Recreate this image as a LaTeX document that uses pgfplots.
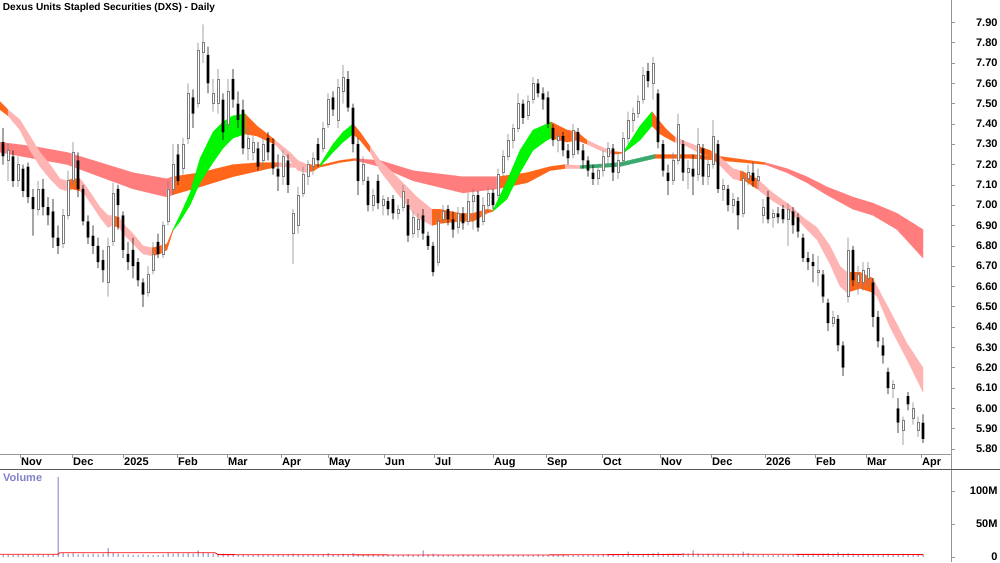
\documentclass[border=0pt]{standalone}
\usepackage{pgfplots}
\pgfplotsset{compat=1.18}
\usepackage{pgfplotstable}
\usepackage{fontspec}
\setmainfont{Liberation Sans}
\definecolor{ribgreen}{RGB}{0,245,0}
\definecolor{riborange}{RGB}{255,102,26}
\definecolor{ribpink}{RGB}{255,180,180}
\definecolor{ribred}{RGB}{255,125,125}
\definecolor{ribdkgreen}{RGB}{60,170,110}
\definecolor{candlegray}{RGB}{125,125,125}
\definecolor{volblue}{RGB}{128,128,200}
\definecolor{axgray}{RGB}{150,150,150}

\pgfplotstableread{
x o h l c
8 7.22 7.30 7.12 7.27
18 7.12 7.24 7.09 7.20
38 6.98 7.12 6.95 7.08
63 6.81 6.98 6.79 6.95
68 6.95 7.17 6.93 7.12
73 7.12 7.31 7.10 7.26
108 6.62 6.84 6.55 6.80
113 6.82 7.11 6.80 7.06
148 6.57 6.70 6.55 6.66
153 6.68 6.82 6.66 6.76
163 6.76 6.92 6.74 6.90
168 6.92 7.12 6.90 7.08
173 7.08 7.30 7.05 7.20
183 7.18 7.33 7.15 7.30
188 7.33 7.60 7.30 7.55
198 7.50 7.80 7.48 7.76
203 7.75 7.89 7.70 7.80
213 7.50 7.62 7.46 7.55
218 7.50 7.67 7.45 7.62
228 7.40 7.62 7.38 7.56
248 7.28 7.38 7.22 7.33
253 7.26 7.34 7.22 7.31
263 7.22 7.33 7.18 7.30
283 7.14 7.27 7.10 7.24
293 6.86 6.98 6.71 6.96
298 6.90 7.09 6.86 7.05
303 7.06 7.19 7.04 7.15
308 7.14 7.22 7.10 7.20
313 7.19 7.26 7.15 7.23
323 7.28 7.41 7.26 7.38
328 7.40 7.55 7.38 7.52
338 7.42 7.62 7.38 7.58
343 7.56 7.69 7.50 7.63
363 7.12 7.24 7.10 7.20
373 7.00 7.08 6.97 7.05
383 7.00 7.05 6.95 7.03
398 6.96 7.00 6.93 6.98
403 6.99 7.10 6.97 7.07
413 6.86 6.97 6.84 6.94
418 6.88 6.96 6.84 6.93
438 6.72 6.96 6.70 6.92
443 6.93 7.00 6.91 6.97
458 6.89 6.99 6.86 6.96
468 6.92 7.06 6.90 7.02
473 7.02 7.08 6.88 7.05
483 6.92 7.04 6.90 7.00
488 7.00 7.09 6.97 7.06
498 7.05 7.18 7.03 7.15
503 7.16 7.27 7.14 7.24
508 7.24 7.35 7.22 7.32
513 7.32 7.40 7.28 7.38
518 7.38 7.55 7.36 7.50
528 7.44 7.54 7.42 7.51
533 7.52 7.63 7.50 7.60
558 7.32 7.36 7.26 7.34
573 7.25 7.40 7.23 7.37
598 7.13 7.19 7.10 7.17
603 7.17 7.27 7.14 7.24
608 7.24 7.31 7.20 7.28
618 7.16 7.26 7.13 7.22
623 7.22 7.36 7.20 7.33
628 7.33 7.46 7.30 7.42
633 7.42 7.48 7.36 7.45
638 7.45 7.54 7.43 7.51
643 7.52 7.68 7.50 7.64
653 7.60 7.73 7.52 7.70
673 7.12 7.26 7.10 7.22
678 7.22 7.45 7.20 7.40
688 7.16 7.22 7.08 7.18
698 7.15 7.38 7.12 7.30
708 7.14 7.24 7.10 7.20
713 7.20 7.42 7.18 7.34
723 7.08 7.13 7.02 7.10
733 7.00 7.06 6.96 7.03
743 6.96 7.17 6.94 7.13
748 7.13 7.20 7.10 7.16
758 7.12 7.18 7.08 7.14
763 6.95 7.03 6.91 6.99
773 6.94 6.98 6.89 6.96
788 6.93 7.01 6.80 6.98
818 6.67 6.75 6.60 6.68
833 6.42 6.48 6.40 6.45
848 6.55 6.84 6.52 6.78
858 6.62 6.70 6.56 6.66
863 6.62 6.72 6.58 6.68
868 6.64 6.72 6.60 6.69
893 6.10 6.14 6.05 6.12
903 5.89 5.96 5.82 5.94
913 5.95 6.03 5.92 6.00
918 5.89 5.96 5.86 5.93
}\upcandles

\pgfplotstableread{
x o h l c
3 7.31 7.38 7.20 7.24
13 7.24 7.27 7.09 7.12
23 7.18 7.20 7.04 7.07
28 7.19 7.21 7.01 7.04
33 7.04 7.08 6.85 6.98
43 7.08 7.13 6.95 6.99
48 6.99 7.04 6.90 6.95
53 6.97 7.03 6.79 6.84
58 6.84 6.90 6.76 6.80
78 7.22 7.26 7.04 7.08
83 7.08 7.10 6.90 6.92
88 6.92 6.95 6.81 6.84
93 6.85 6.90 6.76 6.80
98 6.80 6.84 6.69 6.72
103 6.73 6.78 6.62 6.68
118 7.08 7.10 6.88 7.00
123 6.95 6.97 6.74 6.78
128 6.76 6.82 6.68 6.72
133 6.78 6.84 6.64 6.70
138 6.72 6.74 6.60 6.63
143 6.62 6.64 6.50 6.56
158 6.82 6.86 6.74 6.76
178 7.25 7.30 7.10 7.12
193 7.53 7.57 7.38 7.45
208 7.74 7.78 7.55 7.60
223 7.52 7.55 7.32 7.36
233 7.62 7.67 7.48 7.52
238 7.50 7.56 7.38 7.42
243 7.47 7.52 7.25 7.28
258 7.28 7.31 7.17 7.19
268 7.33 7.36 7.22 7.26
273 7.30 7.33 7.15 7.18
278 7.18 7.25 7.07 7.14
288 7.22 7.25 7.06 7.10
318 7.30 7.33 7.19 7.22
333 7.53 7.56 7.44 7.47
348 7.62 7.66 7.46 7.48
353 7.48 7.50 7.26 7.30
358 7.30 7.33 7.05 7.12
368 7.12 7.14 6.97 7.00
378 7.12 7.15 6.98 7.01
388 7.02 7.04 6.95 6.98
393 7.03 7.05 6.93 6.96
408 7.00 7.03 6.82 6.85
423 6.95 6.98 6.83 6.86
428 6.85 6.87 6.78 6.80
433 6.80 6.82 6.65 6.67
448 6.98 7.00 6.90 6.93
453 6.93 6.97 6.84 6.88
463 6.96 6.99 6.88 6.91
478 7.05 7.07 6.87 6.89
493 7.06 7.08 6.98 7.00
523 7.50 7.52 7.40 7.43
538 7.60 7.62 7.53 7.55
543 7.55 7.58 7.47 7.52
548 7.53 7.56 7.38 7.40
553 7.38 7.40 7.29 7.32
563 7.34 7.36 7.24 7.27
568 7.27 7.30 7.20 7.23
578 7.36 7.38 7.25 7.27
583 7.27 7.30 7.18 7.22
588 7.22 7.24 7.14 7.17
593 7.16 7.20 7.10 7.13
613 7.28 7.30 7.12 7.16
648 7.66 7.70 7.58 7.61
658 7.55 7.57 7.28 7.31
663 7.30 7.32 7.14 7.17
668 7.16 7.20 7.05 7.12
683 7.30 7.32 7.12 7.16
693 7.18 7.25 7.05 7.14
703 7.28 7.30 7.10 7.14
718 7.30 7.32 7.06 7.08
728 7.08 7.10 6.97 7.00
738 7.02 7.04 6.88 6.95
753 7.16 7.21 7.09 7.12
768 7.04 7.07 6.91 6.93
778 6.96 6.99 6.91 6.94
783 6.98 7.00 6.91 6.93
793 6.97 6.99 6.86 6.90
798 6.94 6.96 6.84 6.87
803 6.84 6.86 6.72 6.74
808 6.74 6.77 6.68 6.72
813 6.72 6.76 6.62 6.70
823 6.66 6.68 6.52 6.55
828 6.52 6.54 6.38 6.42
838 6.44 6.46 6.28 6.31
843 6.31 6.33 6.16 6.20
853 6.78 6.80 6.60 6.63
873 6.62 6.64 6.40 6.45
878 6.45 6.48 6.30 6.33
883 6.31 6.35 6.22 6.26
888 6.18 6.20 6.07 6.10
898 6.00 6.05 5.88 5.93
908 6.06 6.08 5.99 6.02
923 5.93 5.97 5.83 5.85
}\downcandles

\pgfplotstableread{
x v
3 3.5
8 4
13 3
18 4
23 3.5
28 4
33 3
38 4
43 3.5
48 4
53 4
58 121
63 6
68 5
73 6
78 4
83 5
88 4
93 5
98 4
103 5
108 14
113 6
118 5
123 4
128 4
133 3
138 3
143 4
148 3
153 3
158 3
163 4
168 6
173 5
178 6
183 5
188 6
193 5
198 10
203 7
208 6
213 5
218 4
223 5
228 3
233 4
238 3
243 4
248 3
253 3
258 4
263 3
268 3
273 3
278 4
283 3
288 4
293 5
298 4
303 3
308 3
313 4
318 3
323 4
328 6
333 4
338 4
343 5
348 4
353 6
358 4
363 3
368 3
373 4
378 3
383 3
388 3
393 4
398 3
403 3
408 4
413 3
418 3
423 10
428 4
433 5
438 4
443 3
448 3
453 3
458 3
463 4
468 3
473 3
478 3
483 3
488 3
493 3
498 4
503 3
508 3
513 3
518 3
523 3
528 3
533 3
538 4
543 3
548 3
553 3
558 3
563 3
568 3
573 3
578 3
583 3
588 3
593 3
598 3
603 4
608 3
613 4
618 3
623 4
628 8
633 4
638 5
643 4
648 5
653 6
658 7
663 5
668 4
673 5
678 4
683 6
688 5
693 10
698 5
703 4
708 5
713 4
718 5
723 4
728 4
733 5
738 4
743 8
748 6
753 4
758 3
763 4
768 3
773 3
778 3
783 4
788 3
793 4
798 3
803 4
808 4
813 5
818 4
823 5
828 6
833 5
838 7
843 5
848 6
853 5
858 4
863 5
868 4
873 5
878 4
883 4
888 5
893 4
898 4
903 5
908 4
913 4
918 3
923 4
}\volume

\pgfplotsset{
  rib/.style={fill=#1, draw=#1, line width=0.2pt},
  candlelayer/.style={at={(0pt,0pt)}, anchor=north west,
    scale only axis, width=951.7pt, height=454.7pt,
    xmin=0, xmax=951.7, ymin=5.772, ymax=8.0097,
    hide axis, ybar stacked, bar shift=0pt},
}

\begin{document}
\begin{tikzpicture}
\path[use as bounding box] (0pt,0pt) rectangle (1000pt,-562pt);
\begin{axis}[
  name=price, at={(0pt,0pt)}, anchor=north west,
  scale only axis, width=951.7pt, height=454.7pt,
  xmin=0, xmax=951.7, ymin=5.772, ymax=8.0097,
  axis x line*=bottom, axis y line*=right,
  axis line style={axgray, line width=0.8pt, -},
  tick align=outside, major tick length=3pt,
  tick style={axgray, line width=0.6pt},
  xtick={20,72,123,177,227,281,328,384,434,493,546,602,660,711,765,815,866,921},
  xticklabels={Nov,Dec,2025,Feb,Mar,Apr,May,Jun,Jul,Aug,Sep,Oct,Nov,Dec,2026,Feb,Mar,Apr},
  xticklabel style={anchor=north west, inner sep=0pt, xshift=1pt},
  ytick={5.8,5.9,6.0,6.1,6.2,6.3,6.4,6.5,6.6,6.7,6.8,6.9,7.0,7.1,7.2,7.3,7.4,7.5,7.6,7.7,7.8,7.9},
  yticklabels={5.80,5.90,6.00,6.10,6.20,6.30,6.40,6.50,6.60,6.70,6.80,6.90,7.00,7.10,7.20,7.30,7.40,7.50,7.60,7.70,7.80,7.90},
  yticklabel style={anchor=east, inner sep=0pt, xshift=43pt},
  ticklabel style={font=\bfseries\fontsize{11}{13}\selectfont, text=black},
  title={Dexus Units Stapled Securities (DXS) - Daily},
  title style={at={(0,1)}, anchor=north west, inner sep=0pt, xshift=2.7pt, yshift=-8.5pt, font=\bfseries\fontsize{10.1}{12}\selectfont},
]
% long-term ribbon
\addplot[rib=ribred] coordinates {(0,7.31)(33,7.29)(67,7.26)(100,7.21)(133,7.16)(167,7.13)(172,7.14)(172,7.05)(167,7.04)(133,7.08)(100,7.14)(67,7.20)(33,7.23)(0,7.26)};
\addplot[rib=riborange] coordinates {(172,7.14)(200,7.16)(233,7.20)(260,7.21)(277,7.21)(277,7.19)(260,7.17)(233,7.14)(200,7.09)(172,7.05)};
\addplot[rib=ribpink] coordinates {(277,7.21)(295,7.205)(312,7.20)(312,7.18)(295,7.185)(277,7.19)};
\addplot[rib=riborange] coordinates {(312,7.20)(323,7.20)(340,7.22)(355,7.23)(355,7.22)(340,7.21)(323,7.19)(312,7.18)};
\addplot[rib=ribred] coordinates {(355,7.23)(380,7.22)(413,7.17)(463,7.14)(497,7.14)(497,7.08)(463,7.06)(413,7.12)(380,7.19)(355,7.22)};
\addplot[rib=riborange] coordinates {(497,7.14)(527,7.16)(550,7.19)(565,7.20)(565,7.18)(550,7.17)(527,7.11)(497,7.08)};
\addplot[rib=ribpink] coordinates {(565,7.20)(580,7.195)(580,7.18)(565,7.18)};
\addplot[rib=ribdkgreen] coordinates {(580,7.195)(620,7.21)(655,7.25)(655,7.23)(620,7.19)(580,7.18)};
\addplot[rib=riborange] coordinates {(655,7.25)(690,7.25)(720,7.24)(765,7.21)(765,7.20)(720,7.22)(690,7.23)(655,7.23)};
\addplot[rib=ribred] coordinates {(765,7.21)(787,7.18)(807,7.14)(827,7.09)(853,7.04)(873,7.01)(897,6.96)(923,6.88)(923,6.74)(897,6.88)(873,6.95)(853,6.98)(827,7.05)(807,7.11)(787,7.16)(765,7.20)};
% short-term ribbon
\addplot[rib=riborange] coordinates {(0,7.51)(8,7.47)(8,7.44)(0,7.47)};
\addplot[rib=ribpink] coordinates {(8,7.47)(20,7.42)(30,7.34)(40,7.26)(50,7.20)(60,7.13)(67,7.12)(67,7.07)(60,7.08)(50,7.13)(40,7.19)(30,7.27)(20,7.37)(8,7.44)};
\addplot[rib=riborange] coordinates {(67,7.12)(72,7.13)(80,7.13)(80,7.07)(72,7.08)(67,7.07)};
\addplot[rib=ribpink] coordinates {(80,7.13)(85,7.10)(92,7.05)(100,6.99)(108,6.95)(112,6.95)(112,6.90)(108,6.89)(100,6.94)(92,7.00)(85,7.05)(80,7.07)};
\addplot[rib=riborange] coordinates {(112,6.95)(119,6.94)(119,6.89)(112,6.90)};
\addplot[rib=ribpink] coordinates {(119,6.94)(125,6.90)(133,6.86)(143,6.80)(152,6.79)(152,6.75)(143,6.76)(133,6.81)(125,6.85)(119,6.89)};
\addplot[rib=riborange] coordinates {(152,6.79)(160,6.80)(167,6.81)(173,6.88)(173,6.875)(167,6.78)(160,6.76)(152,6.75)};
\addplot[rib=ribgreen] coordinates {(173,6.88)(180,6.95)(190,7.06)(200,7.23)(213,7.36)(223,7.41)(233,7.44)(245,7.45)(245,7.35)(233,7.33)(223,7.28)(213,7.21)(200,7.11)(190,7.00)(180,6.92)(173,6.875)};
\addplot[rib=riborange] coordinates {(245,7.45)(257,7.39)(270,7.34)(275,7.32)(275,7.30)(270,7.31)(257,7.34)(245,7.35)};
\addplot[rib=ribpink] coordinates {(275,7.32)(290,7.26)(298,7.22)(307,7.20)(307,7.16)(298,7.17)(290,7.22)(275,7.30)};
\addplot[rib=riborange] coordinates {(307,7.20)(314,7.20)(320,7.20)(320,7.19)(314,7.17)(307,7.16)};
\addplot[rib=ribgreen] coordinates {(320,7.20)(333,7.30)(343,7.36)(353,7.40)(353,7.35)(343,7.31)(333,7.26)(320,7.19)};
\addplot[rib=riborange] coordinates {(353,7.40)(360,7.36)(370,7.29)(370,7.26)(360,7.32)(353,7.35)};
\addplot[rib=ribpink] coordinates {(370,7.29)(380,7.22)(397,7.14)(417,7.04)(432,6.98)(432,6.90)(417,6.94)(397,7.06)(380,7.17)(370,7.26)};
\addplot[rib=riborange] coordinates {(432,6.98)(440,6.98)(460,6.96)(473,6.96)(487,6.98)(493,6.975)(493,6.97)(487,6.96)(473,6.92)(460,6.92)(440,6.91)(432,6.90)};
\addplot[rib=ribgreen] coordinates {(493,6.975)(507,7.12)(520,7.27)(533,7.37)(547,7.40)(551,7.41)(551,7.33)(547,7.32)(533,7.27)(520,7.16)(507,7.03)(493,6.97)};
\addplot[rib=riborange] coordinates {(551,7.41)(567,7.37)(577,7.36)(587,7.32)(587,7.30)(577,7.32)(567,7.31)(551,7.33)};
\addplot[rib=ribpink] coordinates {(587,7.32)(600,7.29)(612,7.265)(612,7.25)(600,7.27)(587,7.30)};
\addplot[rib=riborange] coordinates {(612,7.265)(623,7.26)(623,7.255)(612,7.25)};
\addplot[rib=ribgreen] coordinates {(623,7.26)(627,7.29)(640,7.39)(652,7.46)(652,7.39)(640,7.32)(627,7.27)(623,7.255)};
\addplot[rib=riborange] coordinates {(652,7.46)(660,7.41)(667,7.37)(675,7.335)(675,7.31)(667,7.33)(660,7.35)(652,7.39)};
\addplot[rib=ribpink] coordinates {(675,7.335)(687,7.31)(698,7.29)(698,7.26)(687,7.29)(675,7.31)};
\addplot[rib=riborange] coordinates {(698,7.29)(710,7.27)(717,7.25)(717,7.21)(710,7.24)(698,7.26)};
\addplot[rib=ribpink] coordinates {(717,7.25)(733,7.18)(740,7.17)(740,7.12)(733,7.13)(717,7.21)};
\addplot[rib=riborange] coordinates {(740,7.17)(745,7.16)(757,7.13)(757,7.08)(745,7.12)(740,7.12)};
\addplot[rib=ribpink] coordinates {(757,7.13)(773,7.06)(790,7.00)(803,6.94)(817,6.89)(830,6.80)(840,6.70)(847,6.67)(847,6.57)(840,6.60)(830,6.71)(817,6.83)(803,6.90)(790,6.97)(773,7.02)(757,7.08)};
\addplot[rib=riborange] coordinates {(847,6.67)(860,6.67)(873,6.64)(873,6.57)(860,6.59)(847,6.57)};
\addplot[rib=ribpink] coordinates {(873,6.64)(877,6.60)(890,6.48)(907,6.32)(923,6.20)(923,6.08)(907,6.24)(890,6.40)(877,6.55)(873,6.57)};
\end{axis}

% rising (hollow grey) candles: low, lower wick, body, upper wick stacked
\begin{axis}[candlelayer]
\addplot[draw=none, fill=none, bar width=0.7pt] table[x=x, y=l] {\upcandles};
\addplot[draw=none, fill=candlegray, bar width=0.7pt] table[x=x, y expr={\thisrow{o}-\thisrow{l}}] {\upcandles};
\addplot[draw=candlegray, fill=white, line width=0.6pt, bar width=2.4pt] table[x=x, y expr={\thisrow{c}-\thisrow{o}}] {\upcandles};
\addplot[draw=none, fill=candlegray, bar width=0.7pt] table[x=x, y expr={\thisrow{h}-\thisrow{c}}] {\upcandles};
\end{axis}

% falling (black) candles
\begin{axis}[candlelayer]
\addplot[draw=none, fill=none, bar width=0.7pt] table[x=x, y=l] {\downcandles};
\addplot[draw=none, fill=black, bar width=0.7pt] table[x=x, y expr={\thisrow{c}-\thisrow{l}}] {\downcandles};
\addplot[draw=none, fill=black, bar width=2.8pt] table[x=x, y expr={\thisrow{o}-\thisrow{c}}] {\downcandles};
\addplot[draw=none, fill=black, bar width=0.7pt] table[x=x, y expr={\thisrow{h}-\thisrow{o}}] {\downcandles};
\end{axis}

\begin{axis}[
  name=vol, at={(0pt,-469.3pt)}, anchor=north west,
  scale only axis, width=951.7pt, height=92.7pt,
  xmin=0, xmax=951.7, ymin=-7.6, ymax=132.9,
  axis x line=none, axis y line*=right,
  axis line style={axgray, line width=0.8pt, -},
  tick align=outside, major tick length=3pt,
  tick style={axgray, line width=0.6pt},
  ytick={0,50,100}, yticklabels={0,50M,100M},
  yticklabel style={anchor=east, inner sep=0pt, xshift=43pt},
  ticklabel style={font=\bfseries\fontsize{11}{13}\selectfont, text=black},
  title={Volume},
  title style={at={(0,1)}, anchor=north west, inner sep=0pt, xshift=3pt, yshift=-10pt, font=\bfseries\fontsize{11}{13}\selectfont, text=volblue},
]
\addplot[ybar, bar width=1pt, fill=volblue, draw=none] table[x=x, y=v] {\volume};
\addplot[red, line width=0.8pt] coordinates {(0,4.2) (58,4.2) (60,6.5) (215,6.5) (218,3.6) (330,3.3) (470,3.0) (560,3.2) (640,3.8) (720,4.2) (800,4.0) (880,3.8) (923,3.6)};
\end{axis}
\draw[axgray, line width=0.8pt] (951.7pt,0pt) -- (951.7pt,-562pt);
\draw[black!65, line width=0.8pt] (0pt,-469.3pt) -- (1000pt,-469.3pt);
\end{tikzpicture}
\end{document}
